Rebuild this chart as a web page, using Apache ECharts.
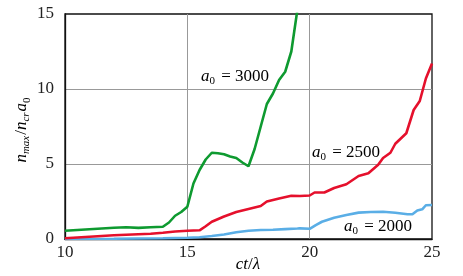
<!DOCTYPE html>
<html><head><meta charset="utf-8">
<script src="https://cdn.jsdelivr.net/npm/echarts@6/dist/echarts.min.js"></script>
<style>html,body{margin:0;padding:0;background:#fff}#c{width:463px;height:276px}</style>
</head><body><div id="c"></div>
<script>
// tick values
const xTicks = [10, 15, 20, 25];
const yTicks = [0, 5, 10, 15];
// series: [ct/lambda, n_max/(n_cr a0)]
const a3000 = [[10,0.55],[10.5,0.6],[11,0.65],[11.5,0.7],[12,0.75],[12.5,0.78],[13,0.74],[13.5,0.78],[14,0.82],[14.25,1.1],[14.5,1.55],[14.75,1.8],[15,2.15],[15.25,3.7],[15.5,4.6],[15.75,5.3],[16,5.75],[16.25,5.72],[16.5,5.65],[16.75,5.5],[17,5.4],[17.25,5.1],[17.5,4.85],[17.75,6.0],[18,7.5],[18.25,9.0],[18.5,9.7],[18.75,10.6],[19,11.15],[19.25,12.5],[19.5,15.3]];
const a2500 = [[10,0.05],[11,0.15],[12,0.25],[13,0.32],[13.5,0.35],[14,0.42],[14.5,0.5],[15,0.55],[15.5,0.58],[15.75,0.85],[16,1.15],[16.5,1.5],[17,1.8],[17.5,2.0],[18,2.2],[18.25,2.5],[18.75,2.7],[19.25,2.88],[19.6,2.87],[20,2.9],[20.2,3.1],[20.6,3.1],[21,3.4],[21.5,3.65],[22,4.2],[22.4,4.38],[22.8,4.95],[23,5.4],[23.3,5.75],[23.5,6.35],[23.95,7.05],[24.25,8.6],[24.5,9.2],[24.75,10.7],[25,11.7]];
const a2000 = [[10,0.0],[12,0.02],[14,0.05],[15,0.08],[15.5,0.12],[16,0.2],[16.5,0.3],[17,0.45],[17.5,0.55],[18,0.6],[18.5,0.62],[19,0.66],[19.5,0.7],[19.6,0.71],[20,0.68],[20.25,0.93],[20.5,1.15],[21,1.42],[21.5,1.6],[22,1.76],[22.5,1.8],[23,1.82],[23.5,1.75],[24,1.65],[24.2,1.65],[24.4,1.9],[24.6,1.98],[24.75,2.25],[25,2.27]];
const labels = [
  {text: '3000', x: 201, y: 77},
  {text: '2500', x: 312, y: 153},
  {text: '2000', x: 344, y: 227}
];

const serif = 'Times New Roman, Tinos, DejaVu Serif, serif';
const chart = echarts.init(document.getElementById('c'), null, {renderer: 'canvas'});
const subRich = {
  i: {fontFamily: serif, fontStyle: 'italic', fontSize: 17, color: '#222', lineHeight: 22},
  s: {fontFamily: serif, fontStyle: 'italic', fontSize: 11, color: '#222', lineHeight: 22, padding: [9, 1, 0, 0]},
  z: {fontFamily: serif, fontSize: 11, color: '#222', lineHeight: 22, padding: [10, 2, 0, 0]},
  t: {fontFamily: serif, fontSize: 17, color: '#222', lineHeight: 22}
};
const graphics = labels.map(l => ({
  type: 'text', left: l.x, top: l.y - 11, z: 10,
  style: {text: '{i|a}{z|0}{t| = ' + l.text + '}', rich: subRich}
}));
graphics.push({
  type: 'text', x: 22, y: 129, rotation: Math.PI / 2, z: 10,
  style: {text: '{i|n}{s|max}{t|/}{i|n}{s|cr}{i|a}{z|0}', rich: subRich, align: 'center', verticalAlign: 'middle'}
});
graphics.push({
  type: 'text', x: 248, y: 265, z: 10,
  style: {text: '{i|ct}{t|/}{i|λ}', rich: subRich, align: 'center', verticalAlign: 'middle'}
});

const option = {
  animation: false,
  textStyle: {fontFamily: serif},
  grid: {left: 65, top: 14, width: 367, height: 225, show: true, borderColor: '#111', borderWidth: 1.3},
  xAxis: {
    type: 'value', min: xTicks[0], max: xTicks[xTicks.length - 1], interval: 5,
    axisLine: {show: true, onZero: false, lineStyle: {color: '#111', width: 1.3}},
    axisTick: {show: false},
    splitLine: {show: true, showMinLine: false, showMaxLine: false, lineStyle: {color: '#999', width: 1}},
    axisLabel: {fontFamily: serif, fontSize: 17, color: '#222', margin: 5}
  },
  yAxis: {
    type: 'value', min: yTicks[0], max: yTicks[yTicks.length - 1], interval: 5,
    axisLine: {show: true, onZero: false, lineStyle: {color: '#111', width: 1.3}},
    axisTick: {show: false},
    splitLine: {show: true, showMinLine: false, showMaxLine: false, lineStyle: {color: '#999', width: 1}},
    axisLabel: {fontFamily: serif, fontSize: 17, color: '#222', margin: 11}
  },
  series: [
    {type: 'line', data: a2000, showSymbol: false, clip: true, lineStyle: {color: '#5aaee6', width: 2.6}, z: 3},
    {type: 'line', data: a2500, showSymbol: false, clip: true, lineStyle: {color: '#e5102c', width: 2.6}, z: 4},
    {type: 'line', data: a3000, showSymbol: false, clip: true, lineStyle: {color: '#0e9a30', width: 2.6}, z: 5}
  ],
  graphic: graphics
};
chart.setOption(option);
</script>
</body></html>
